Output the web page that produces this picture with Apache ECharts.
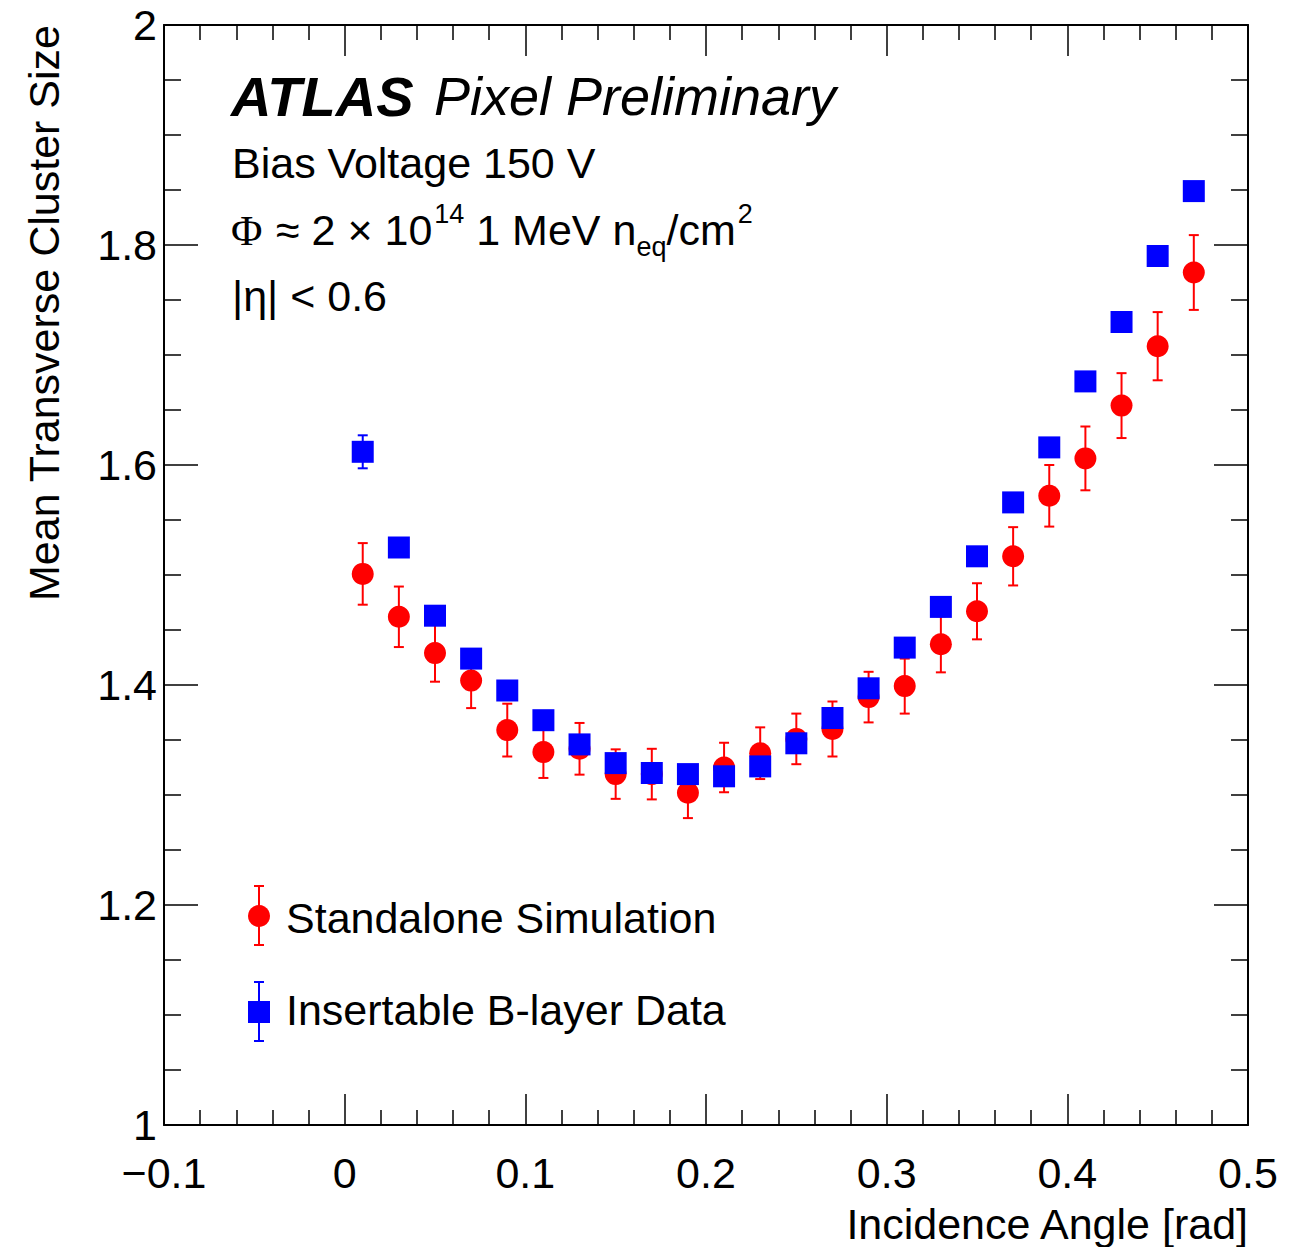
<!DOCTYPE html>
<html>
<head>
<meta charset="utf-8">
<script src="https://cdn.jsdelivr.net/npm/echarts@6/dist/echarts.min.js"></script>
<style>
  html, body { margin: 0; padding: 0; background: #fff; }
  #chart { width: 1304px; height: 1247px; }
</style>
</head>
<body>
<div id="chart"></div>
<script>
  // incidence angle bin centres [rad]
  const angles = [0.01, 0.03, 0.05, 0.07, 0.09, 0.11, 0.13, 0.15, 0.17, 0.19, 0.21, 0.23,
                  0.25, 0.27, 0.29, 0.31, 0.33, 0.35, 0.37, 0.39, 0.41, 0.43, 0.45, 0.47]

  // Standalone Simulation
  const simMean = [1.501, 1.462, 1.429, 1.404, 1.359, 1.339, 1.342, 1.319, 1.319, 1.302, 1.325, 1.338,
                   1.351, 1.360, 1.389, 1.399, 1.437, 1.467, 1.517, 1.572, 1.606, 1.654, 1.708, 1.775]
  const simErr  = [0.028, 0.0275, 0.026, 0.025, 0.024, 0.0235, 0.0235, 0.0225, 0.023, 0.023, 0.0225, 0.0235,
                   0.023, 0.025, 0.023, 0.025, 0.0255, 0.0255, 0.0265, 0.028, 0.029, 0.0295, 0.031, 0.034]

  // Insertable B-layer Data
  const iblMean = [1.612, 1.525, 1.463, 1.424, 1.395, 1.368, 1.346, 1.329, 1.320, 1.319, 1.317, 1.326,
                   1.347, 1.370, 1.397, 1.434, 1.471, 1.517, 1.566, 1.616, 1.676, 1.730, 1.790, 1.849]
  const iblErr  = [0.015, 0.006, 0.006, 0.006, 0.006, 0.006, 0.006, 0.006, 0.006, 0.006, 0.006, 0.006,
                   0.006, 0.006, 0.006, 0.006, 0.006, 0.006, 0.006, 0.006, 0.006, 0.006, 0.006, 0.006]

  const FONT = '"Liberation Sans", Arial, Helvetica, sans-serif'
  const RED = '#ff0000'
  const BLUE = '#0000ff'

  const chart = echarts.init(document.getElementById('chart'), null, { renderer: 'svg' })

  const points = (mean) => angles.map((x, i) => [x, mean[i]])
  const bars = (mean, err) => angles.map((x, i) => [x, mean[i] - err[i], mean[i] + err[i]])

  // error bar with small caps
  const errorBar = (color) => (params, api) => {
    const x = api.value(0)
    const top = api.coord([x, api.value(2)])
    const bot = api.coord([x, api.value(1)])
    const hw = 5
    const style = { stroke: color, lineWidth: 2 }
    return {
      type: 'group',
      children: [
        { type: 'line', shape: { x1: top[0], y1: top[1], x2: bot[0], y2: bot[1] }, style },
        { type: 'line', shape: { x1: top[0] - hw, y1: top[1], x2: top[0] + hw, y2: top[1] }, style },
        { type: 'line', shape: { x1: bot[0] - hw, y1: bot[1], x2: bot[0] + hw, y2: bot[1] }, style }
      ]
    }
  }

  const xAxisBase = {
    type: 'value',
    min: -0.1,
    max: 0.5,
    interval: 0.1,
    splitLine: { show: false },
    axisLine: { show: true, onZero: false, lineStyle: { color: '#000', width: 2 } },
    axisTick: { show: true, inside: true, length: 31, lineStyle: { color: '#000', width: 1.5 } },
    minorTick: { show: true, splitNumber: 5, length: 15, lineStyle: { color: '#000', width: 1.5 } }
  }
  const yAxisBase = {
    type: 'value',
    min: 1,
    max: 2,
    interval: 0.2,
    splitLine: { show: false },
    axisLine: { show: true, onZero: false, lineStyle: { color: '#000', width: 2 } },
    axisTick: { show: true, inside: true, length: 34, lineStyle: { color: '#000', width: 1.5 } },
    minorTick: { show: true, splitNumber: 4, length: 17, lineStyle: { color: '#000', width: 1.5 } }
  }

  const legendItem = (y, textY, color, symbol, label) => {
    const cx = 259
    const lineStyle = { stroke: color, lineWidth: 2 }
    const marker = symbol === 'circle'
      ? { type: 'circle', shape: { cx: cx, cy: y, r: 11 }, style: { fill: color } }
      : { type: 'rect', shape: { x: cx - 11, y: y - 11, width: 22, height: 22 }, style: { fill: color } }
    return [
      { type: 'line', shape: { x1: cx, y1: y - 30, x2: cx, y2: y + 29 }, style: lineStyle },
      { type: 'line', shape: { x1: cx - 5, y1: y - 30, x2: cx + 5, y2: y - 30 }, style: lineStyle },
      { type: 'line', shape: { x1: cx - 5, y1: y + 29, x2: cx + 5, y2: y + 29 }, style: lineStyle },
      marker,
      { type: 'text', x: 286, y: textY, style: { text: label, font: '43px ' + FONT, fill: '#000', verticalAlign: 'middle' } }
    ]
  }

  const options = {
    animation: false,
    backgroundColor: '#fff',
    grid: { left: 164, top: 25, right: 56, bottom: 122 },
    xAxis: [
      Object.assign({}, xAxisBase, {
        position: 'bottom',
        axisLabel: {
          margin: 26,
          fontSize: 43,
          fontFamily: FONT,
          color: '#000',
          formatter: (v) => String(parseFloat(v.toFixed(1))).replace('-', '\u2212')
        }
      }),
      Object.assign({}, xAxisBase, { position: 'top', axisLabel: { show: false } })
    ],
    yAxis: [
      Object.assign({}, yAxisBase, {
        position: 'left',
        axisLabel: {
          margin: 7,
          fontSize: 43,
          fontFamily: FONT,
          color: '#000',
          formatter: (v) => String(parseFloat(v.toFixed(1)))
        }
      }),
      Object.assign({}, yAxisBase, { position: 'right', axisLabel: { show: false } })
    ],
    graphic: [
      // axis titles
      {
        type: 'text', x: 44, y: 25, rotation: Math.PI / 2,
        style: { text: 'Mean Transverse Cluster Size', font: '43px ' + FONT, fill: '#000', align: 'right', verticalAlign: 'middle' }
      },
      {
        type: 'text', x: 1248, y: 1224,
        style: { text: 'Incidence Angle [rad]', font: '43px ' + FONT, fill: '#000', align: 'right', verticalAlign: 'middle' }
      },
      // ATLAS label
      {
        type: 'text', x: 231, y: 96,
        style: { text: 'ATLAS', font: 'italic bold 56px ' + FONT, fill: '#000', verticalAlign: 'middle' }
      },
      {
        type: 'text', x: 434, y: 96,
        style: { text: 'Pixel Preliminary', font: 'italic 54px ' + FONT, fill: '#000', verticalAlign: 'middle' }
      },
      {
        type: 'text', x: 232, y: 163,
        style: { text: 'Bias Voltage 150 V', font: '43px ' + FONT, fill: '#000', verticalAlign: 'middle' }
      },
      {
        type: 'text', x: 231, y: 230,
        style: { text: '\u03A6', font: '43px "Liberation Serif", serif', fill: '#000', verticalAlign: 'middle' }
      },
      {
        type: 'text', x: 276, y: 230,
        style: {
          text: '{t|\u2248 2 \u00D7 10}{sup|14}{t|\u00A01 MeV n}{sub|eq}{t|/cm}{sup|2}',
          verticalAlign: 'middle',
          rich: {
            t: { fontFamily: FONT, fontSize: 43, fill: '#000', lineHeight: 60 },
            sup: { fontFamily: FONT, fontSize: 27, fill: '#000', verticalAlign: 'top', lineHeight: 60, padding: [0, 0, 28, 2] },
            sub: { fontFamily: FONT, fontSize: 27, fill: '#000', verticalAlign: 'bottom', lineHeight: 60, padding: [26, 0, 0, 0] }
          }
        }
      },
      {
        type: 'text', x: 232, y: 296,
        style: { text: '|\u03B7| < 0.6', font: '43px ' + FONT, fill: '#000', verticalAlign: 'middle' }
      },
      // legend
      ...legendItem(916, 918, RED, 'circle', 'Standalone Simulation'),
      ...legendItem(1012, 1010, BLUE, 'rect', 'Insertable B-layer Data')
    ],
    series: [
      {
        name: 'Standalone Simulation errors',
        type: 'custom',
        renderItem: errorBar(RED),
        data: bars(simMean, simErr),
        z: 2
      },
      {
        name: 'Standalone Simulation',
        type: 'scatter',
        symbol: 'circle',
        symbolSize: 22,
        itemStyle: { color: RED, opacity: 1 },
        data: points(simMean),
        z: 3
      },
      {
        name: 'Insertable B-layer Data errors',
        type: 'custom',
        renderItem: errorBar(BLUE),
        data: bars(iblMean, iblErr),
        z: 4
      },
      {
        name: 'Insertable B-layer Data',
        type: 'scatter',
        symbol: 'rect',
        symbolSize: 22,
        itemStyle: { color: BLUE, opacity: 1 },
        data: points(iblMean),
        z: 5
      }
    ]
  }

  chart.setOption(options)
</script>
</body>
</html>
